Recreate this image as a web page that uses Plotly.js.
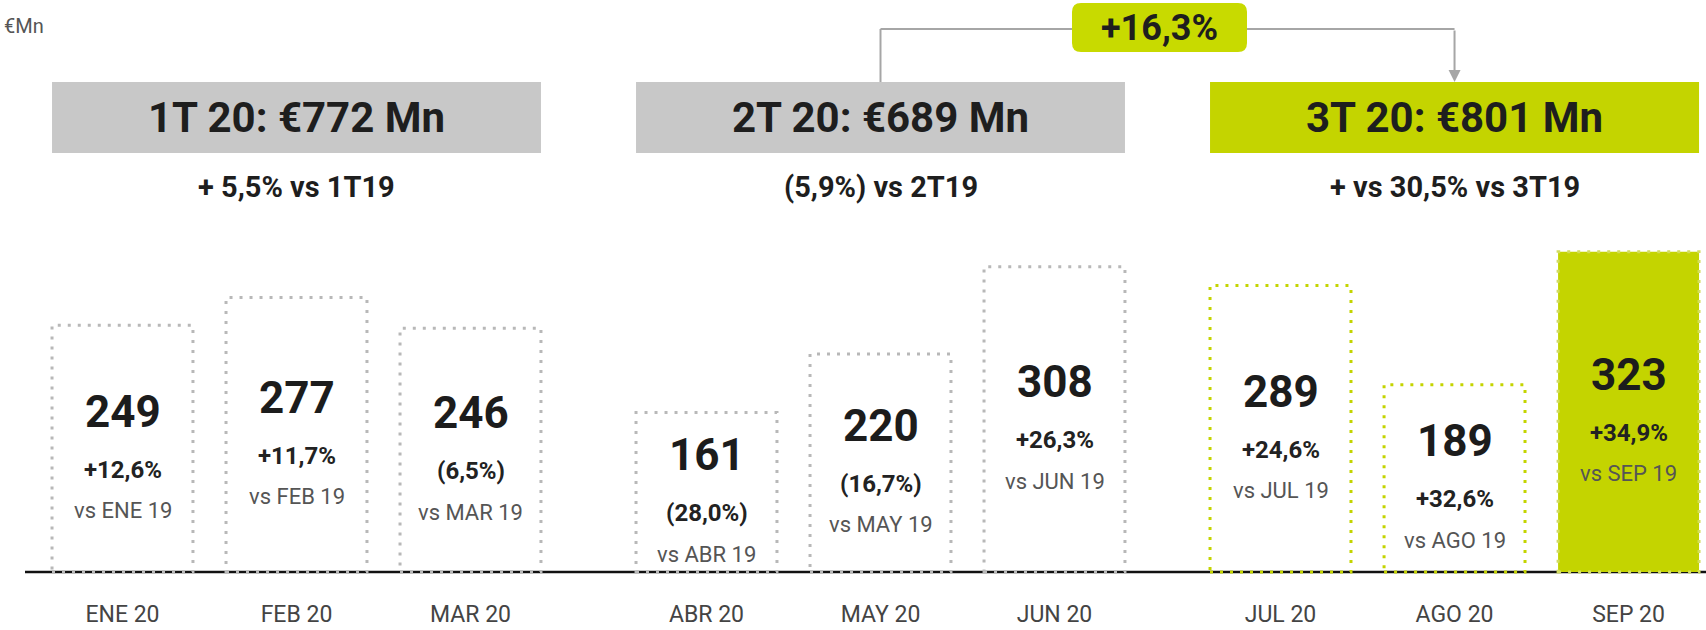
<!DOCTYPE html>
<html>
<head>
<meta charset="utf-8">
<script src="https://cdn.plot.ly/plotly-3.0.1.min.js"></script>
<style>
  html, body { margin: 0; padding: 0; background: #fff; }
  #chart { width: 1706px; height: 630px; }
</style>
</head>
<body>
<div id="chart"></div>
<script>
// monthly sales, €Mn
const months = ["ENE 20", "FEB 20", "MAR 20", "ABR 20", "MAY 20", "JUN 20", "JUL 20", "AGO 20", "SEP 20"];
const values = [249, 277, 246, 161, 220, 308, 289, 189, 323];
const changes = ["+12,6%", "+11,7%", "(6,5%)", "(28,0%)", "(16,7%)", "+26,3%", "+24,6%", "+32,6%", "+34,9%"];
const vsLabels = ["vs ENE 19", "vs FEB 19", "vs MAR 19", "vs ABR 19", "vs MAY 19", "vs JUN 19", "vs JUL 19", "vs AGO 19", "vs SEP 19"];

// quarter summaries
const quarterTitles = ["1T 20: €772 Mn", "2T 20: €689 Mn", "3T 20: €801 Mn"];
const quarterNotes = ["+ 5,5% vs 1T19", "(5,9%) vs 2T19", "+ vs 30,5% vs 3T19"];
const qoqChange = "+16,3%";
const unitLabel = "€Mn";

// ---- layout helpers (pixels) ----
const W = 1706, H = 630, BOTTOM = 56;
const PH = H - BOTTOM; // plot area height
const FONT = "Roboto, 'Open Sans', sans-serif";
const GREY = "#c8c8c8", LIME = "#c4d400", DOT_GREY = "#b8b8b8";
const BAR_W = 0.81;

const groupPx = [[35.5, 557.5], [619.5, 1141.5], [1193.5, 1706]];
const groupRange = [[-0.5, 2.5], [-0.5, 2.5], [-0.5, 2.445]];

const paperX = (px) => px / W;
const paperY = (py) => (PH - py) / PH;
function catPx(g, i) {
  const [d0, d1] = groupPx[g];
  const [r0, r1] = groupRange[g];
  return d0 + (i - r0) / (r1 - r0) * (d1 - d0);
}
const axisName = (g) => (g === 0 ? "x" : "x" + (g + 1));

const traces = [];
const shapes = [];
const annotations = [];

// base line across the whole chart
shapes.push({
  type: "line", xref: "paper", yref: "y",
  x0: paperX(25), x1: 1, y0: 0, y1: 0,
  line: { color: "#111", width: 2.5 }, layer: "below",
});

for (let g = 0; g < 3; g++) {
  const idx = [3 * g, 3 * g + 1, 3 * g + 2];
  const xs = idx.map((k) => months[k]);
  const ys = idx.map((k) => values[k]);
  const isQ3 = g === 2;

  traces.push({
    type: "bar",
    x: xs,
    y: ys,
    width: BAR_W,
    xaxis: axisName(g),
    yaxis: "y",
    marker: {
      color: idx.map((k) => (k === months.length - 1 ? LIME : "rgba(0,0,0,0)")),
      line: { width: 0 },
    },
    hovertemplate: "%{x}: %{y} €Mn<extra></extra>",
    showlegend: false,
  });

  idx.forEach((k, i) => {
    // dotted outline
    shapes.push({
      type: "rect", xref: axisName(g), yref: "y",
      x0: i - BAR_W / 2, x1: i + BAR_W / 2, y0: 0, y1: values[k],
      line: { color: isQ3 ? (k === months.length - 1 ? "#d2dc60" : LIME) : DOT_GREY, width: 3, dash: "3px,7px" },
    });
    // labels inside bars
    const common = { xref: axisName(g), yref: "y", x: months[k], y: values[k] / 2, showarrow: false, xanchor: "center", yanchor: "middle" };
    annotations.push({ ...common, text: "<b>" + values[k] + "</b>", yshift: 37, font: { family: FONT, size: 44, color: "#1c1c1c" } });
    annotations.push({ ...common, text: "<b>" + changes[k] + "</b>", yshift: -21, font: { family: FONT, size: 24, color: "#222" } });
    annotations.push({ ...common, text: vsLabels[k], yshift: -62, font: { family: FONT, size: 22, color: "#555" } });
  });

  // quarter header box
  shapes.push({
    type: "rect", xref: axisName(g), yref: "paper",
    x0: -BAR_W / 2, x1: 2 + BAR_W / 2, y0: paperY(153), y1: paperY(82),
    fillcolor: isQ3 ? LIME : GREY, line: { width: 0 },
  });
  annotations.push({
    xref: axisName(g), yref: "paper", x: 1, y: paperY(118),
    text: "<b>" + quarterTitles[g] + "</b>", showarrow: false, xanchor: "center", yanchor: "middle",
    font: { family: FONT, size: 42, color: "#1e1e1e" },
  });
  annotations.push({
    xref: axisName(g), yref: "paper", x: 1, y: paperY(187),
    text: "<b>" + quarterNotes[g] + "</b>", showarrow: false, xanchor: "center", yanchor: "middle",
    font: { family: FONT, size: 29, color: "#1e1e1e" },
  });
}

// connector 2T -> 3T
const fromX = catPx(1, 1), toX = catPx(2, 1), lineY = 29;
shapes.push({
  type: "line", xref: "paper", yref: "paper",
  x0: paperX(fromX), x1: paperX(fromX), y0: paperY(82), y1: paperY(lineY),
  line: { color: "#a6a6a6", width: 2 },
});
shapes.push({
  type: "line", xref: "paper", yref: "paper",
  x0: paperX(fromX), x1: paperX(toX), y0: paperY(lineY), y1: paperY(lineY),
  line: { color: "#a6a6a6", width: 2 },
});
annotations.push({
  xref: "paper", yref: "paper", x: paperX(toX), y: paperY(82),
  ax: 0, ay: -(82 - lineY), text: "", showarrow: true,
  arrowhead: 2, arrowsize: 1.2, arrowwidth: 2, arrowcolor: "#a6a6a6",
});

// rounded badge
const bx0 = 1072, bx1 = 1247, by0 = 3, by1 = 52, r = 9;
const pt = (x, y) => paperX(x) + "," + paperY(y);
shapes.push({
  type: "path", xref: "paper", yref: "paper",
  path: "M" + pt(bx0 + r, by0) + " L" + pt(bx1 - r, by0) + " Q" + pt(bx1, by0) + " " + pt(bx1, by0 + r) +
    " L" + pt(bx1, by1 - r) + " Q" + pt(bx1, by1) + " " + pt(bx1 - r, by1) +
    " L" + pt(bx0 + r, by1) + " Q" + pt(bx0, by1) + " " + pt(bx0, by1 - r) +
    " L" + pt(bx0, by0 + r) + " Q" + pt(bx0, by0) + " " + pt(bx0 + r, by0) + " Z",
  fillcolor: "#c8da00", line: { width: 0 },
});
annotations.push({
  xref: "paper", yref: "paper", x: paperX((bx0 + bx1) / 2), y: paperY((by0 + by1) / 2 + 1),
  text: "<b>" + qoqChange + "</b>", showarrow: false, xanchor: "center", yanchor: "middle",
  font: { family: FONT, size: 36, color: "#1e1e1e" },
});

// unit label
annotations.push({
  xref: "paper", yref: "paper", x: 0.001, y: paperY(26), xanchor: "left", yanchor: "middle",
  text: unitLabel, showarrow: false, font: { family: FONT, size: 20, color: "#555" },
});

const layout = {
  width: W, height: H,
  margin: { l: 0, r: 0, t: 0, b: BOTTOM },
  paper_bgcolor: "#fff", plot_bgcolor: "rgba(0,0,0,0)",
  showlegend: false,
  yaxis: { visible: false, range: [-2, 577], fixedrange: true },
  shapes, annotations,
};
for (let g = 0; g < 3; g++) {
  layout[g === 0 ? "xaxis" : "xaxis" + (g + 1)] = {
    domain: [paperX(groupPx[g][0]), paperX(groupPx[g][1])],
    range: groupRange[g],
    anchor: "y",
    type: "category",
    showgrid: false, zeroline: false, showline: false, ticks: "",
    ticklabelstandoff: 24,
    tickfont: { family: FONT, size: 23, color: "#444" },
    fixedrange: true,
  };
}

Plotly.newPlot("chart", traces, layout, { displayModeBar: false, responsive: false });
</script>
</body>
</html>
